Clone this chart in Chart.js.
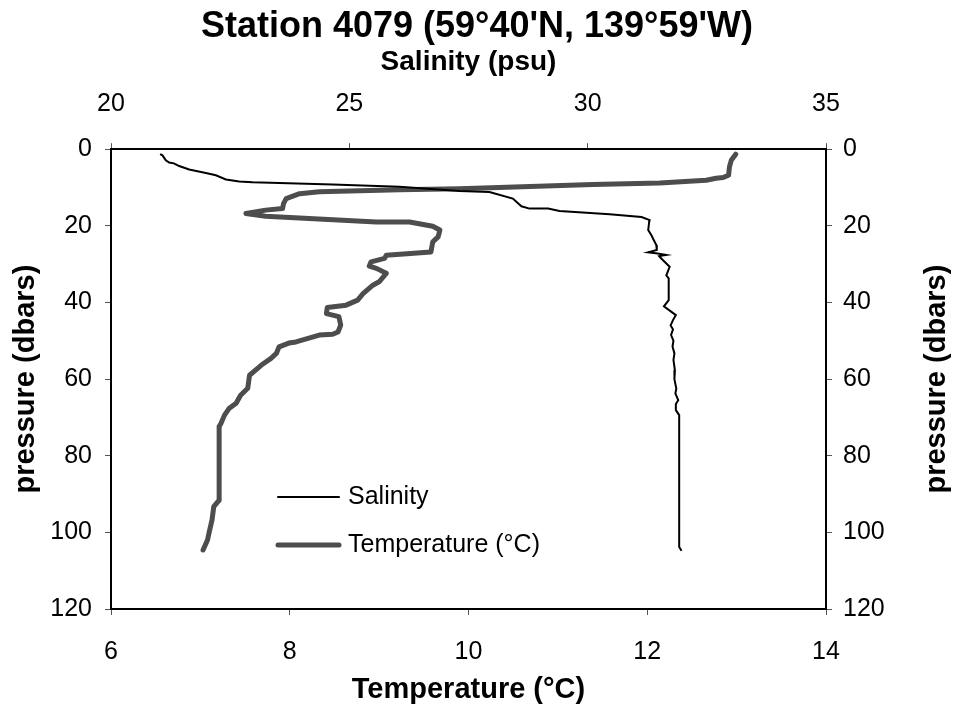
<!DOCTYPE html>
<html>
<head>
<meta charset="utf-8">
<title>Station 4079</title>
<script src="https://cdn.jsdelivr.net/npm/chart.js@4/dist/chart.umd.min.js"></script>
<style>
  body { margin: 0; background: #fff; }
</style>
</head>
<body>
<canvas id="ctdChart" width="954" height="704"></canvas>
<script>
// salinity profile (psu) vs pressure (dbars)
const salPressure = [1.3, 1.6, 2.9, 3.5, 3.7, 4.4, 5.3, 6.2, 6.8, 7.9, 8.4, 8.6, 9.2, 9.8, 10.9, 11.2, 12.9, 14.9, 15.5, 15.5, 16.1, 17.0, 17.7, 18.5, 19.0, 21.1, 22.5, 23.3, 25.0, 26.3, 26.9, 27.2, 27.6, 27.9, 28.6, 30.7, 32.9, 33.7, 39.4, 41.0, 43.3, 44.6, 46.0, 47.0, 48.5, 50.0, 51.5, 53.3, 55.0, 57.7, 60.0, 62.5, 63.7, 65.5, 66.5, 68.1, 69.4, 103.8, 104.8];
const salinity = [21.03, 21.08, 21.15, 21.22, 21.32, 21.43, 21.64, 21.99, 22.20, 22.41, 22.69, 22.97, 24.65, 26.05, 27.31, 27.94, 28.43, 28.61, 28.78, 29.17, 29.41, 30.46, 31.13, 31.30, 31.29, 31.27, 31.34, 31.37, 31.44, 31.45, 31.27, 31.47, 31.65, 31.50, 31.55, 31.72, 31.65, 31.70, 31.70, 31.60, 31.85, 31.79, 31.74, 31.79, 31.75, 31.80, 31.78, 31.82, 31.80, 31.83, 31.82, 31.86, 31.84, 31.90, 31.85, 31.85, 31.92, 31.92, 31.97];

// temperature profile (deg C) vs pressure (dbars)
const tempPressure = [1.3, 2.9, 4.6, 6.8, 7.4, 7.6, 8.1, 8.8, 9.2, 10.3, 10.6, 11.1, 11.6, 12.9, 14.2, 15.5, 15.9, 16.8, 17.5, 19.0, 19.0, 20.1, 21.1, 22.9, 24.2, 26.8, 27.7, 28.5, 29.4, 30.5, 31.1, 32.4, 34.6, 35.5, 37.7, 39.4, 40.7, 41.3, 42.9, 43.7, 45.9, 47.7, 48.3, 48.5, 50.3, 50.6, 51.6, 53.3, 54.6, 56.4, 59.0, 62.4, 64.2, 66.3, 67.7, 69.4, 71.6, 72.4, 91.6, 93.3, 96.8, 99.8, 102.0, 104.6];
const temperature = [12.99, 12.94, 12.92, 12.91, 12.85, 12.77, 12.66, 12.14, 11.39, 9.90, 9.23, 8.33, 8.11, 7.96, 7.93, 7.92, 7.73, 7.51, 7.73, 8.97, 9.34, 9.60, 9.68, 9.66, 9.60, 9.58, 9.08, 9.06, 8.91, 8.89, 8.97, 9.08, 9.00, 8.93, 8.82, 8.76, 8.63, 8.42, 8.41, 8.55, 8.57, 8.54, 8.48, 8.33, 8.07, 7.99, 7.88, 7.85, 7.79, 7.68, 7.55, 7.53, 7.45, 7.40, 7.32, 7.27, 7.23, 7.21, 7.21, 7.15, 7.13, 7.10, 7.08, 7.03];

const chartTitle = "Station 4079 (59°40'N, 139°59'W)";
const pressureLabel = 'pressure (dbars)';

const FONT = "'Liberation Sans', Arial, sans-serif";

const toPoints = (xs, ps) => xs.map((v, i) => ({x: v, y: ps[i]}));

// right axis title reads bottom-to-top like the left one, and an in-plot legend
const extras = {
    id: 'extras',
    afterDraw(chart) {
        const ctx = chart.ctx;
        const area = chart.chartArea;
        ctx.save();
        ctx.fillStyle = '#000';
        ctx.font = 'bold 29px ' + FONT;
        ctx.textAlign = 'center';
        ctx.textBaseline = 'middle';
        ctx.translate(937, (area.top + area.bottom) / 2);
        ctx.rotate(-Math.PI / 2);
        ctx.fillText(pressureLabel, 0, 0);
        ctx.restore();

        const rows = [497, 545];
        ctx.save();
        chart.data.datasets.forEach((ds, i) => {
            ctx.strokeStyle = ds.borderColor;
            ctx.lineWidth = ds.borderWidth;
            ctx.lineCap = 'round';
            ctx.beginPath();
            ctx.moveTo(278, rows[i]);
            ctx.lineTo(339, rows[i]);
            ctx.stroke();
            ctx.fillStyle = '#000';
            ctx.font = '25px ' + FONT;
            ctx.textAlign = 'left';
            ctx.textBaseline = 'middle';
            ctx.fillText(ds.label, 348, rows[i]);
        });
        ctx.restore();
    }
};

const axisGrid = {drawOnChartArea: false, drawTicks: true, tickLength: 6, color: '#555'};
const axisBorder = {display: true, color: '#000', width: 2};
const tickFont = {family: FONT, size: 25};

const ctx = document.getElementById('ctdChart').getContext('2d');
const myChart = new Chart(ctx, {
    type: 'scatter',
    data: {
        datasets: [{
            label: 'Salinity',
            data: toPoints(salinity, salPressure),
            xAxisID: 'x2',
            yAxisID: 'y',
            showLine: true,
            borderColor: '#000000',
            borderWidth: 2,
            pointRadius: 0,
            order: 0
        }, {
            label: 'Temperature (°C)',
            data: toPoints(temperature, tempPressure),
            xAxisID: 'x',
            yAxisID: 'y',
            showLine: true,
            borderColor: '#4d4d4d',
            borderWidth: 5,
            borderJoinStyle: 'round',
            borderCapStyle: 'round',
            pointRadius: 0,
            order: 1
        }]
    },
    options: {
        responsive: false,
        devicePixelRatio: 1,
        animation: false,
        layout: {padding: 0},
        plugins: {
            legend: {display: false},
            tooltip: {enabled: false},
            title: {
                display: true,
                text: chartTitle,
                color: '#000',
                font: {family: FONT, size: 36, weight: 'bold', lineHeight: 1.2},
                padding: {top: 5, bottom: 0}
            }
        },
        scales: {
            x: {
                type: 'linear', position: 'bottom',
                min: 6, max: 14,
                ticks: {stepSize: 2, color: '#000', font: tickFont, padding: 22, maxRotation: 0},
                grid: axisGrid, border: axisBorder,
                title: {display: true, text: 'Temperature (°C)', color: '#000',
                        font: {family: FONT, size: 29, weight: 'bold', lineHeight: 1}, padding: {top: 0, bottom: 0}},
                afterFit: s => { s.height = 95; }
            },
            x2: {
                type: 'linear', position: 'top',
                min: 20, max: 35,
                ticks: {stepSize: 5, color: '#000', font: tickFont, padding: 24, maxRotation: 0},
                grid: axisGrid, border: axisBorder,
                title: {display: true, text: 'Salinity (psu)', color: '#000',
                        font: {family: FONT, size: 28, weight: 'bold', lineHeight: 1}, padding: {top: 0, bottom: 0}},
                afterFit: s => { s.height = 101; }
            },
            y: {
                type: 'linear', position: 'left', reverse: true,
                min: 0, max: 120,
                ticks: {stepSize: 20, color: '#000', font: tickFont, padding: 13},
                grid: axisGrid, border: axisBorder,
                title: {display: true, text: pressureLabel, color: '#000',
                        font: {family: FONT, size: 29, weight: 'bold', lineHeight: 1}, padding: {top: 11, bottom: 0}},
                afterFit: s => { s.width = 111; }
            },
            y2: {
                type: 'linear', position: 'right', reverse: true,
                min: 0, max: 120,
                ticks: {stepSize: 20, color: '#000', font: tickFont, padding: 11},
                grid: axisGrid, border: axisBorder,
                afterFit: s => { s.width = 128; }
            }
        }
    },
    plugins: [extras]
});
</script>
</body>
</html>
